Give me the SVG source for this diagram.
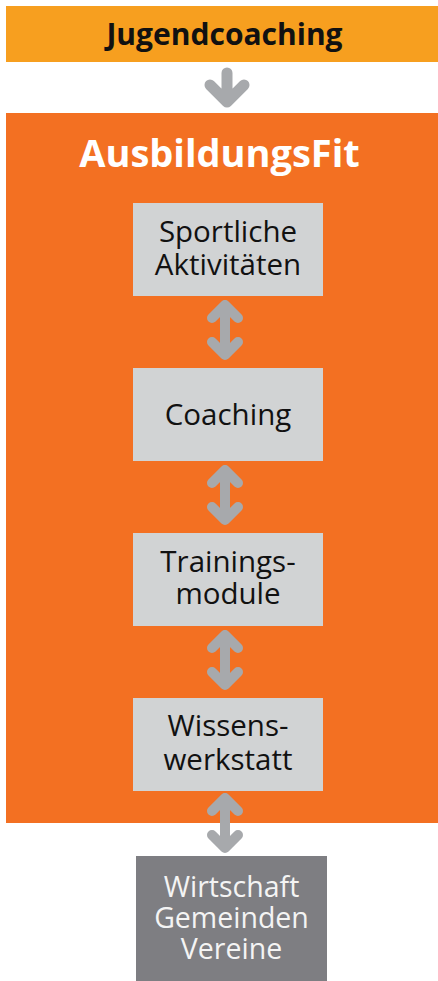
<svg xmlns="http://www.w3.org/2000/svg" width="438" height="981" viewBox="0 0 438 981">
<style>
text{font-family:"Open Sans","Noto Sans","DejaVu Sans",sans-serif;text-anchor:middle}
.box{fill:#D1D3D4}
.lbl{font-size:29.5px;fill:#111}
.wht{font-size:28.5px;fill:#F4F4F4}
.arr{fill:none;stroke:#A7A9AC;stroke-width:10;stroke-linecap:round;stroke-linejoin:round}
</style>
<rect width="438" height="981" fill="#fff"/>
<g id="jugendcoaching">
<rect x="6" y="6" width="432" height="56" fill="#F79F1F"/>
<text x="224.5" y="45" style="font-size:30px;font-weight:bold;fill:#111">Jugendcoaching</text>
</g>
<g id="ausbildungsfit">
<rect x="6" y="113" width="432" height="710" fill="#F37022"/>
<text x="219.5" y="167" style="font-size:38px;font-weight:bold;fill:#fff">AusbildungsFit</text>
</g>
<g id="sportliche">
<rect class="box" x="133" y="203" width="190" height="93"/>
<text class="lbl"><tspan x="228" y="242">Sportliche</tspan><tspan x="228" y="275">Aktivitäten</tspan></text>
</g>
<g id="coaching">
<rect class="box" x="133" y="368" width="190" height="93"/>
<text class="lbl" x="228" y="425">Coaching</text>
</g>
<g id="trainingsmodule">
<rect class="box" x="133" y="533" width="190" height="93"/>
<text class="lbl"><tspan x="228" y="572">Trainings-</tspan><tspan x="228" y="604">module</tspan></text>
</g>
<g id="wissenswerkstatt">
<rect class="box" x="133" y="698" width="190" height="93"/>
<text class="lbl"><tspan x="228" y="736">Wissens-</tspan><tspan x="228" y="770">werkstatt</tspan></text>
</g>
<g id="partner">
<rect x="136" y="856" width="191" height="125" fill="#7E7E82"/>
<text class="wht"><tspan x="231.5" y="897">Wirtschaft</tspan><tspan x="231.5" y="928">Gemeinden</tspan><tspan x="231.5" y="959">Vereine</tspan></text>
</g>
<g id="connectors">
<path class="arr" style="stroke-width:11" d="M227 73V100M210 85L227 102L244 85"/>
<path class="arr" d="M225 305V355M212 318L225 305L238 318M212 342L225 355L238 342"/>
<path class="arr" d="M225 470V520M212 483L225 470L238 483M212 507L225 520L238 507"/>
<path class="arr" d="M225 635V685M212 648L225 635L238 648M212 672L225 685L238 672"/>
<path class="arr" d="M225 798V848M212 811L225 798L238 811M212 835L225 848L238 835"/>
</g>
</svg>
